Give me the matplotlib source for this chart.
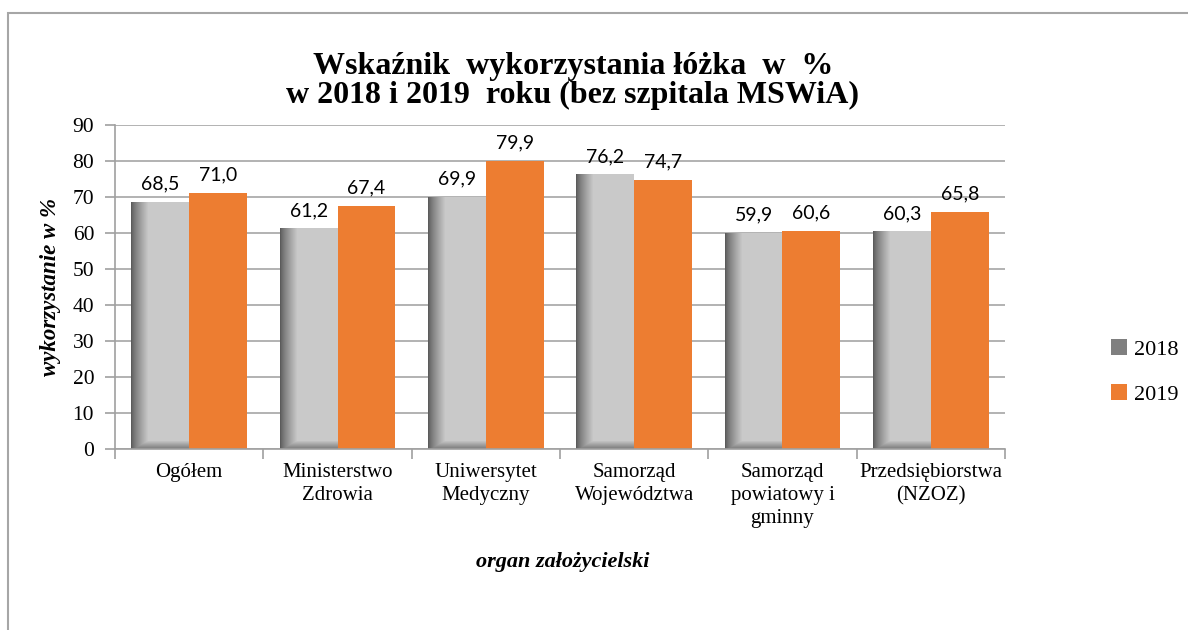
import numpy as np
import matplotlib as mpl
mpl.use('Agg')
import matplotlib.pyplot as plt
from matplotlib.patches import Rectangle, Patch

categories = ['Ogółem', 'Ministerstwo\nZdrowia', 'Uniwersytet\nMedyczny',
              'Samorząd\nWojewództwa', 'Samorząd\npowiatowy i\ngminny',
              'Przedsiębiorstwa\n(NZOZ)']
v2018 = [68.5, 61.2, 69.9, 76.2, 59.9, 60.3]
v2019 = [71.0, 67.4, 79.9, 74.7, 60.6, 65.8]
yticks = [0, 10, 20, 30, 40, 50, 60, 70, 80, 90]

serif = 'Liberation Serif'
sans = 'Lato'
orange = '#ed7d31'
grey_light = np.array([0.79, 0.79, 0.79])
grey_dark = np.array([0.36, 0.36, 0.36])

fig = plt.figure(figsize=(11.88, 6.3), dpi=100)
ax = fig.add_axes([115/1188, 1-449/630, 890/1188, 324/630])

# outer frame of the chart object
fig.patches.append(Rectangle((8/1188, -0.1), 1.2, 1.1 - 13/630, transform=fig.transFigure,
                             fill=False, ec='#a6a6a6', lw=1.5))

x = np.arange(len(categories))
bw = 0.39
px_per_unit_y = 324/90.0

for i, (a, b) in enumerate(zip(v2018, v2019)):
    # 2018 bar: light grey with shaded left and top edge
    x0 = i - bw
    nx = 58
    ny = max(int(a*px_per_unit_y), 2)
    gx = np.clip(np.arange(nx)/17.0, 0, 1)**0.8
    gy = np.clip(np.arange(ny)/8.0, 0, 1)
    g = np.minimum(gx[None, :], 0.3 + 0.7*gy[:, None])
    img = grey_dark[None, None, :] + (grey_light - grey_dark)[None, None, :]*g[:, :, None]
    ax.imshow(img, extent=(x0, i, a, 0), origin='upper', aspect='auto',
              interpolation='bilinear', zorder=2)
    ax.bar(i + bw/2, b, width=bw, color=orange, zorder=2)
    ax.annotate(f'{a:.1f}'.replace('.', ','), (i - bw/2, a), xytext=(0, 7),
                textcoords='offset points', ha='center', va='bottom',
                fontsize=14, family=sans)
    ax.annotate(f'{b:.1f}'.replace('.', ','), (i + bw/2, b), xytext=(0, 7),
                textcoords='offset points', ha='center', va='bottom',
                fontsize=14, family=sans)

ax.set_xlim(-0.5, len(categories) - 0.5)
ax.set_ylim(0, 90)
ax.set_yticks(yticks)
ax.set_yticklabels([str(t) for t in yticks], family=serif, fontsize=15.5)
ax.set_xticks(x)
ax.set_xticklabels(categories, family=serif, fontsize=15, linespacing=1.3)
ax.tick_params(axis='x', length=0, pad=10)
ax.set_xticks(np.arange(len(categories) + 1) - 0.5, minor=True)
ax.tick_params(axis='x', which='minor', length=7, color='#a0a0a0', width=1.2)
ax.tick_params(axis='y', length=7, color='#a0a0a0', width=1.2, pad=8)
ax.grid(axis='y', color='#a6a6a6', lw=1.2, zorder=0)
ax.set_axisbelow(True)
for s in ['top', 'right']:
    ax.spines[s].set_visible(False)
for s in ['left', 'bottom']:
    ax.spines[s].set_color('#a0a0a0')
    ax.spines[s].set_linewidth(1.2)

ax.set_ylabel('wykorzystanie w %', family=serif, fontsize=16.5, fontweight='bold',
              style='italic', labelpad=8)
fig.text(563/1188, 1-562/630, 'organ założycielski', family=serif, fontsize=16,
         fontweight='bold', style='italic', ha='center', va='center')

fig.text(573/1188, 1-52/630,
         'Wskaźnik  wykorzystania łóżka  w  %\nw 2018 i 2019  roku (bez szpitala MSWiA)',
         family=serif, fontsize=23, fontweight='bold', ha='center', va='top',
         linespacing=0.98)

handles = [Patch(facecolor='#7f7f7f'), Patch(facecolor=orange)]
fig.legend(handles, ['2018', '2019'], loc='center left',
           bbox_to_anchor=(1100/1188, 1-372/630), frameon=False,
           prop={'family': serif, 'size': 16}, handlelength=0.7, handleheight=0.7,
           handletextpad=0.35, labelspacing=1.1, borderpad=0)

fig.savefig('out.png', dpi=100)
plt.close(fig)
